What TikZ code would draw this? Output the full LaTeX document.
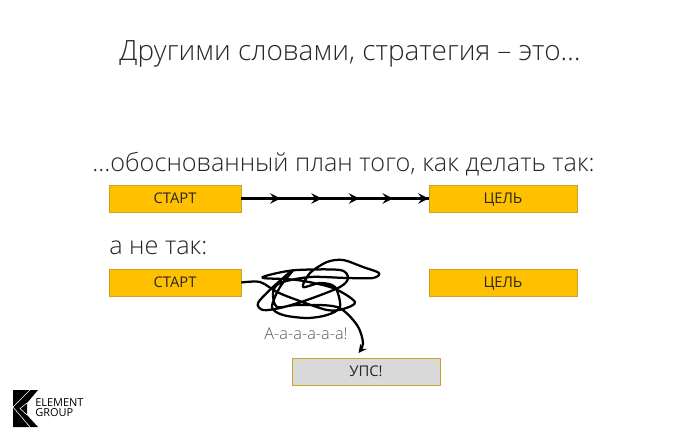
\documentclass[tikz,border=0pt]{standalone}
\usepackage{fontspec}
\setmainfont{Open Sans}
\newfontfamily\lightfont{Open Sans Light}
\usepackage{xcolor}
\usetikzlibrary{positioning, decorations.markings}
\definecolor{boxfill}{HTML}{FFC000}
\definecolor{boxline}{HTML}{C9A227}
\definecolor{upsfill}{HTML}{D9D9D9}
\definecolor{talkgray}{HTML}{595959}

\begin{document}
\begin{tikzpicture}[
    x=0.025cm, y=-0.025cm,
    goalbox/.style={draw=boxline, fill=boxfill, minimum height=0.675cm, font=\fontsize{10.5}{12}\selectfont, text=black!85, inner sep=0pt, text depth=0pt, text height=7.5pt},
    startbox/.style={goalbox, minimum width=3.3cm},
    endbox/.style={goalbox, minimum width=3.7cm},
    upsbox/.style={endbox, fill=upsfill},
    heading/.style={inner sep=0pt, text=black!85},
    scribble/.style={line width=1.6pt, line join=round, black},
    midarrows/.style={line width=1.5pt, decoration={markings,
        mark=at position 0.21 with {\arrow[scale=1.3]{stealth}},
        mark=at position 0.43 with {\arrow[scale=1.3]{stealth}},
        mark=at position 0.63 with {\arrow[scale=1.3]{stealth}},
        mark=at position 0.81 with {\arrow[scale=1.3]{stealth}},
        mark=at position 1 with {\arrow[scale=1.3]{stealth}}}, postaction={decorate}},
]
    \useasboundingbox (0,0) rectangle (700,437);

    % Texts
    \node[heading, font=\lightfont\fontsize{19.85}{24}\selectfont] (title) at (350,53.5) {Другими словами, стратегия – это…};
    \node[heading, font=\lightfont\fontsize{17.95}{21}\selectfont] (plan) at (343.5,164) {…обоснованный план того, как делать так:};
    \node[heading, font=\lightfont\fontsize{17.95}{21}\selectfont, anchor=west] (notso) at (109,248) {а не так:};
    \node[heading, font=\lightfont\fontsize{11.6}{13}\selectfont, text=talkgray] (scream) at (306,334) {А-а-а-а-а-а!};

    % Boxes
    \node[startbox] (start1) at (175,198.5) {СТАРТ};
    \node[endbox] (goal1) at (503,198.5) {ЦЕЛЬ};
    \node[startbox] (start2) at (175,282.5) {СТАРТ};
    \node[endbox] (goal2) at (503,282.5) {ЦЕЛЬ};
    \node[upsbox] (ups) at (366,371.5) {УПС!};

    % Connections
    \draw[midarrows] (start1.east) -- (goal1.west);
    \coordinate (upstip) at (358.5,353);
    \draw[scribble, ->, >=stealth] plot[smooth, tension=0.5] coordinates {
        (start2.east) (260,282) (277,292) (297,300) (327,310) (343,309) (355,302)
        (333,288) (297,280) (263,278) (273,274) (297,270) (340,270) (348,278)
        (340,287) (307,300) (280,308) (263,310) (258,303) (273,287) (293,270)
        (280,287) (272,307) (283,315) (307,318) (327,315) (340,307) (335,287)
        (320,283) (303,287) (310,273) (327,262) (343,260) (363,267) (379,273)
        (373,278) (347,278) (310,277) (280,283) (273,293) (277,307) (297,305)
        (337,307) (357,325) (363,343) (upstip)};

    % Logo
    \fill[black] (13,390) -- (38,390) -- (27,403) -- (27,415) -- (38,427) -- (13,427) -- cycle;
    \draw[white, line width=0.4pt] (13,407) -- (30,427) (13,407) -- (30,390) (27,403) -- (20,408.5) -- (27,415);
    \node[inner sep=0pt, anchor=west, font=\fontsize{7.8}{8}\selectfont, text=black] (logotop) at (35,403) {ELEMENT};
    \node[inner sep=0pt, anchor=west, font=\fontsize{7.8}{8}\selectfont, text=black] (logobottom) at (35,413) {GROUP};
\end{tikzpicture}
\end{document}
